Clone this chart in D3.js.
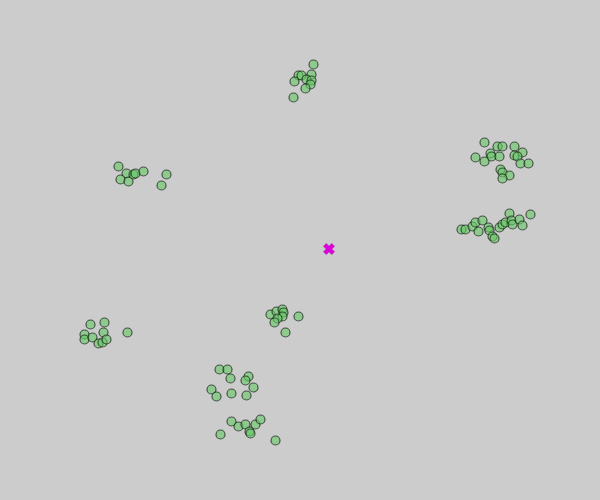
<!DOCTYPE html>
<html><head><meta charset="utf-8">
<script src="https://cdn.jsdelivr.net/npm/d3@7"></script>
<style>html,body{margin:0;padding:0;background:#cccccc;}svg{display:block;}</style>
</head><body>
<script>
const xs = [
 484,497,502,514,475,490,491,499,484,514,522,517,520,528,500,502,509,502,
 461,465,472,475,478,482,488,489,492,494,499,502,505,509,511,512,519,522,530,
 313,298,301,311,294,306,311,310,305,293,
 118,126,120,128,133,135,143,166,161,
 90,104,84,84,92,103,98,102,106,127,
 270,276,282,283,282,277,274,298,285,
 219,227,230,248,245,253,211,216,231,246,
 231,238,245,249,250,255,260,220,275
];
const ys = [
 142,146,146,146,157,153,156,156,161,155,152,156,163,163,169,172,175,178,
 229,229,226,222,231,220,227,230,236,238,227,224,222,213,220,224,219,225,214,
 64,75,75,74,81,79,80,84,88,97,
 166,173,179,181,174,173,171,174,185,
 324,322,334,339,337,332,343,342,339,332,
 314,311,309,312,316,318,322,316,332,
 369,369,378,376,380,387,389,396,393,395,
 421,426,424,431,433,424,419,434,440
];
const centerX = [329];
const centerY = [249];

const W = 600, H = 500;
const x = d3.scaleLinear().domain([0, 600]).range([0, W]);
const y = d3.scaleLinear().domain([0, 500]).range([0, H]);

const svg = d3.select("body").append("svg").attr("width", W).attr("height", H);
svg.append("rect").attr("width", W).attr("height", H).attr("fill", "#cccccc");

svg.append("g").selectAll("circle").data(xs.map((v,i)=>[v, ys[i]])).join("circle")
  .attr("cx", d => x(d[0]) + 0.5).attr("cy", d => y(d[1]) + 0.5).attr("r", 4.5)
  .attr("fill", "rgba(100,200,100,0.6)")
  .attr("stroke", "rgba(0,0,0,0.6)").attr("stroke-width", 1.2);

svg.append("g").selectAll("path").data(centerX.map((v,i)=>[v, centerY[i]])).join("path")
  .attr("d", d3.symbol().type(d3.symbolCross).size(75))
  .attr("transform", d => `translate(${x(d[0])},${y(d[1])}) rotate(45)`)
  .attr("fill", "#e000e0").attr("stroke", "#a000a0").attr("stroke-width", 0.5);
</script>
</body></html>
